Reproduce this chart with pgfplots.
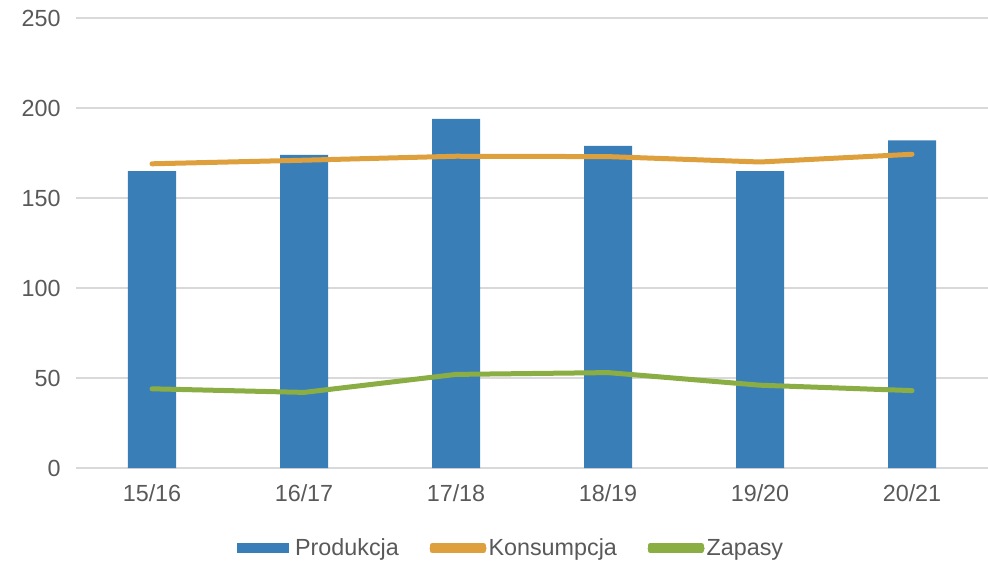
\documentclass[border=0pt]{standalone}
\usepackage{fontspec}
\setmainfont{Liberation Sans}
\usepackage{pgfplots}
\pgfplotsset{compat=1.18}
\definecolor{cblue}{HTML}{3A7EB8}
\definecolor{corange}{HTML}{DDA03C}
\definecolor{cgreen}{HTML}{8AAE43}
\definecolor{cgrid}{HTML}{D9D9D9}
\definecolor{ctext}{HTML}{595959}
\begin{document}
\begin{tikzpicture}[x=1pt,y=1pt]
\useasboundingbox (-57,-72) rectangle (684,351);
\begin{axis}[
  at={(0,0)}, anchor=south west,
  scale only axis, width=684pt, height=337.5pt,
  xmin=-0.5, xmax=5.5, ymin=0, ymax=250,
  xtick={0,1,2,3,4,5},
  xticklabels={15/16,16/17,17/18,18/19,19/20,20/21},
  ytick={0,50,100,150,200,250},
  ymajorgrids, grid style={cgrid, line width=0.9pt},
  axis y line*=left, y axis line style={draw=none},
  axis x line*=bottom, x axis line style={cgrid, line width=0.9pt},
  major tick length=0pt,
  tick label style={font=\fontsize{17.5}{20}\selectfont, text=ctext},
  /pgf/number format/assume math mode=true,
  xticklabel style={yshift=-9pt},
  yticklabel style={xshift=-8pt},
  legend style={at={(0.4775,-0.178)}, anchor=center, draw=none, legend columns=3,
    font=\fontsize{17.5}{20}\selectfont, text=ctext,
    /tikz/every even column/.append style={column sep=21pt}},
  legend cell align=left,
]
\addplot[ybar, bar width=36pt, fill=cblue, draw=none,
  area legend,
  legend image code/.code={\fill[cblue] (0pt,-4pt) rectangle (39pt,4pt); \path (41.5pt,0pt);}]
  coordinates {(0,165) (1,174) (2,194) (3,179) (4,165) (5,182)};
\addlegendentry{Produkcja}
\addplot[corange, line width=3.75pt, line cap=round, line join=round, mark=none,
  legend image code/.code={\draw[overlay, corange, line width=3.75pt, line cap=round] (0pt,0pt) -- (39pt,0pt); \path (0pt,-2pt) rectangle (38.5pt,2pt);}]
  coordinates {(0,169) (1,171) (2,173.2) (3,173) (4,170) (5,174.3)};
\addlegendentry{Konsumpcja}
\addplot[cgreen, line width=3.75pt, line cap=round, line join=round, mark=none,
  legend image code/.code={\draw[overlay, cgreen, line width=3.75pt, line cap=round] (0pt,0pt) -- (39pt,0pt); \path (0pt,-2pt) rectangle (38.5pt,2pt);}]
  coordinates {(0,44) (1,42) (2,52) (3,53) (4,46) (5,43)};
\addlegendentry{Zapasy}
\end{axis}
\end{tikzpicture}
\end{document}
